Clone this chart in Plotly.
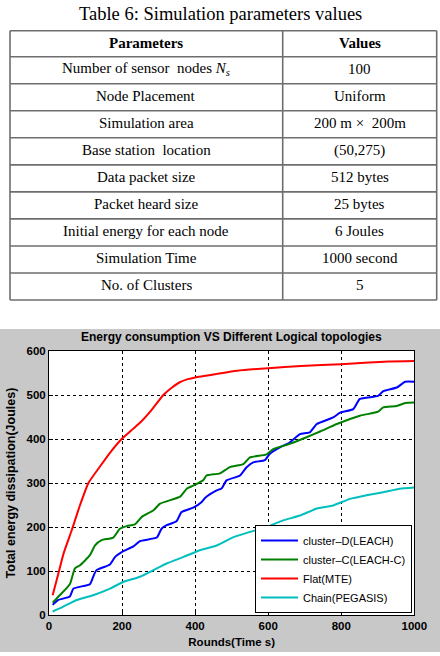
import plotly.graph_objects as go

# ---------------- table data ----------------
table_title = "Table 6: Simulation parameters values"
param_header = "Parameters"
value_header = "Values"
param_names = [
    "Number of sensor  nodes <i>N<sub>s</sub></i>",
    "Node Placement",
    "Simulation area",
    "Base station  location",
    "Data packet size",
    "Packet heard size",
    "Initial energy for each node",
    "Simulation Time",
    "No. of Clusters",
]
param_values = [
    "100",
    "Uniform",
    "200 m \u00d7  200m",
    "(50,275)",
    "512 bytes",
    "25 bytes",
    "6 Joules",
    "1000 second",
    "5",
]

# ---------------- chart data ----------------
chart_title = "Energy consumption VS Different Logical topologies"
x_title = "Rounds(Time s)"
y_title = "Total energy dissipation(Joules)"

leach_x = [10, 25, 57, 67, 112, 121, 130, 167, 181, 199, 231, 249, 295, 308, 322, 349, 363, 395, 418, 427,
           459, 473, 486, 523, 541, 559, 591, 604, 632, 659, 687, 714, 733, 778, 797, 833, 851, 901, 915,
           952, 975, 1000]
leach_y = [23, 34, 42, 60, 70, 87, 102, 115, 132, 143, 156, 168, 176, 196, 204, 213, 234, 244, 257, 266,
           283, 288, 306, 317, 336, 347, 352, 366, 381, 392, 411, 415, 434, 449, 460, 468, 491, 498, 509,
           517, 530, 530]

leachc_x = [10, 26, 57, 71, 85, 112, 126, 144, 176, 194, 213, 235, 254, 286, 304, 359, 377, 395, 422, 431,
            468, 495, 532, 550, 596, 614, 659, 705, 742, 788, 851, 901, 915, 952, 975, 1000]
leachc_y = [28, 42, 70, 106, 113, 136, 158, 170, 176, 196, 202, 206, 223, 238, 253, 269, 287, 294, 306, 317,
            322, 336, 343, 358, 365, 377, 389, 404, 417, 434, 453, 462, 472, 475, 482, 483]

mte_x = [10, 25, 40, 62, 85, 108, 140, 170, 199, 230, 254, 280, 313, 335, 358, 380, 400, 460, 515, 600,
         690, 800, 930, 1000]
mte_y = [45, 92, 140, 192, 250, 300, 338, 372, 400, 423, 441, 465, 500, 516, 529, 536, 540, 548, 555, 561,
         566, 570, 576, 577]

pegasis_x = [10, 39, 76, 121, 167, 203, 249, 286, 322, 368, 413, 459, 505, 550, 596, 641, 687, 733, 778,
             824, 869, 915, 960, 1000]
pegasis_y = [8, 19, 34, 45, 60, 75, 87, 102, 117, 132, 147, 158, 177, 189, 200, 215, 226, 242, 249, 264,
             272, 279, 287, 290]

series_names = ["cluster\u2013D(LEACH)", "cluster\u2013C(LEACH-C)", "Flat(MTE)", "Chain(PEGASIS)"]
series_colors = ["#0000ff", "#008000", "#ff0000", "#00bfbf"]

x_ticks = [0, 200, 400, 600, 800, 1000]
y_ticks = [0, 100, 200, 300, 400, 500, 600]

# ---------------- geometry ----------------
W, H = 440, 656


def px_x(p):
    return p / W


def px_y(p):
    return 1 - p / H


SANS = "Liberation Sans, Arial, sans-serif"
SERIF = "Liberation Serif, Times New Roman, serif"

# table layout (pixels)
T_TOP, T_BOTTOM = 30.7, 300.0
T_LEFT, T_MID, T_RIGHT = 10.0, 282.7, 436.7
HEADER_H = 26.0
n_rows = len(param_names)
ROW_H = (T_BOTTOM - T_TOP - HEADER_H) / n_rows
LINE_COL = "#6e6e6e"

row_tops = [T_TOP, T_TOP + HEADER_H] + [T_TOP + HEADER_H + ROW_H * (i + 1) for i in range(n_rows)]

shapes = [
    dict(type="rect", xref="paper", yref="paper", x0=0, x1=1, y0=px_y(652), y1=px_y(329),
         fillcolor="#c8c8c8", line=dict(width=0), layer="below"),
    dict(type="rect", xref="paper", yref="paper", x0=px_x(49), x1=px_x(414.3), y0=px_y(615), y1=px_y(351),
         fillcolor="white", line=dict(width=0), layer="below"),
]
for yb in row_tops:
    shapes.append(dict(type="line", xref="paper", yref="paper", x0=px_x(T_LEFT), x1=px_x(T_RIGHT),
                       y0=px_y(yb), y1=px_y(yb), line=dict(color=LINE_COL, width=1.6)))
for xb in (T_LEFT, T_MID, T_RIGHT):
    shapes.append(dict(type="line", xref="paper", yref="paper", x0=px_x(xb), x1=px_x(xb),
                       y0=px_y(T_TOP), y1=px_y(T_BOTTOM), line=dict(color=LINE_COL, width=1.6)))

annotations = [
    dict(text=table_title, xref="paper", yref="paper", x=px_x(220), y=px_y(14), xanchor="center",
         yanchor="middle", showarrow=False, font=dict(family=SERIF, size=18.5, color="black")),
    dict(text="<b>" + chart_title + "</b>", xref="paper", yref="paper", x=px_x(231), y=px_y(337),
         xanchor="center", yanchor="middle", showarrow=False,
         font=dict(family=SANS, size=12, color="black")),
]

col1_c = (T_LEFT + T_MID) / 2
col2_c = (T_MID + T_RIGHT) / 2
cell_rows = [("<b>" + param_header + "</b>", "<b>" + value_header + "</b>")] + list(zip(param_names, param_values))
for i, (a, b) in enumerate(cell_rows):
    yc = (row_tops[i] + row_tops[i + 1]) / 2 - 1
    for txt, xc in ((a, col1_c), (b, col2_c)):
        annotations.append(dict(text=txt, xref="paper", yref="paper", x=px_x(xc), y=px_y(yc),
                                xanchor="center", yanchor="middle", showarrow=False,
                                font=dict(family=SERIF, size=15, color="black")))

fig = go.Figure()

for xs, ys, name, col in zip([leach_x, leachc_x, mte_x, pegasis_x],
                             [leach_y, leachc_y, mte_y, pegasis_y],
                             series_names, series_colors):
    fig.add_trace(go.Scatter(x=xs, y=ys, mode="lines", name=name,
                             line=dict(color=col, width=2, shape="spline", smoothing=0.5)))

axis_common = dict(
    showline=True, linecolor="black", linewidth=1, mirror=True,
    showgrid=True, gridcolor="black", gridwidth=1, griddash="3px,3px",
    zeroline=False, ticks="inside", ticklen=4, tickcolor="black",
    tickfont=dict(family=SANS, size=11.5, color="black", weight="bold"),
    automargin=False,
)

fig.update_layout(
    width=W, height=H, autosize=False,
    margin=dict(l=0, r=0, t=0, b=0, pad=0),
    paper_bgcolor="white",
    plot_bgcolor="white",
    showlegend=True,
    xaxis=dict(domain=[px_x(49), px_x(414.3)], range=[0, 1000], tickvals=x_ticks,
               title=dict(text=x_title, font=dict(family=SANS, size=11.5, color="black", weight="bold"),
                          standoff=7),
               **axis_common),
    yaxis=dict(domain=[px_y(615), px_y(351)], range=[0, 600], tickvals=y_ticks,
               title=dict(text=y_title, font=dict(family=SANS, size=12.5, color="black", weight="bold"),
                          standoff=8),
               **axis_common),
    legend=dict(x=px_x(412), y=px_y(613), xanchor="right", yanchor="bottom",
                bgcolor="white", bordercolor="black", borderwidth=1,
                font=dict(family=SANS, size=11, color="black"),
                itemwidth=37, tracegroupgap=0),
    shapes=shapes,
    annotations=annotations,
)

fig.write_html("out.html")
